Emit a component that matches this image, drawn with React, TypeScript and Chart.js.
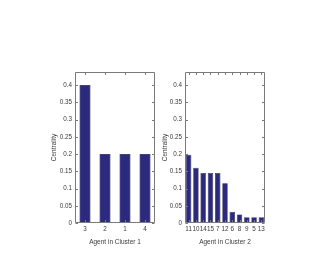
import React, { useEffect, useRef } from "react";
import { Chart, registerables } from "chart.js";

Chart.register(...registerables);

const leftCategories = ["3", "2", "1", "4"];
const leftValues = [0.4, 0.2, 0.2, 0.2];
const rightCategories = ["11", "10", "14", "15", "7", "12", "6", "8", "9", "5", "13"];
const rightValues = [0.198, 0.16, 0.145, 0.145, 0.145, 0.115, 0.032, 0.025, 0.017, 0.017, 0.017];
const yTickValues = [0, 0.05, 0.1, 0.15, 0.2, 0.25, 0.3, 0.35, 0.4];
const yMax = 0.438;

const W = 329;
const H = 269;
const BAR_FILL = "#2c2a7d";
const BAR_EDGE = "#15153a";
const TEXT = "#3a3a3a";
const FONT = "'Liberation Sans', Arial, sans-serif";

const boxPlugin = {
  id: "matlabBox",
  afterDraw(chart: any) {
    const { ctx, chartArea } = chart;
    const x = chart.scales.x;
    const y = chart.scales.y;
    const l = Math.round(chartArea.left) + 0.5;
    const r = Math.round(chartArea.right) - 0.5;
    const t = Math.round(chartArea.top) + 0.5;
    const b = Math.round(chartArea.bottom) - 0.5;
    ctx.save();
    ctx.strokeStyle = "#7a7a7a";
    ctx.lineWidth = 1;
    ctx.beginPath();
    ctx.rect(l, t, r - l, b - t);
    const tl = 2.5;
    yTickValues.forEach((v) => {
      const py = Math.round(y.getPixelForValue(v)) + 0.5;
      ctx.moveTo(l, py);
      ctx.lineTo(l + tl, py);
      ctx.moveTo(r, py);
      ctx.lineTo(r - tl, py);
    });
    const n = chart.data.labels.length;
    for (let i = 0; i < n; i++) {
      const px = Math.round(x.getPixelForValue(i)) + 0.5;
      ctx.moveTo(px, b);
      ctx.lineTo(px, b - tl);
      ctx.moveTo(px, t);
      ctx.lineTo(px, t + tl);
    }
    ctx.stroke();
    ctx.restore();
  },
};

function makeConfig(
  labels: string[],
  values: number[],
  xTitle: string,
  yAxisWidth: number,
  padRight: number,
  yTitleOffset: number,
  barPct: number
): any {
  return {
    type: "bar",
    data: {
      labels,
      datasets: [
        {
          data: values,
          backgroundColor: BAR_FILL,
          borderColor: BAR_EDGE,
          borderWidth: 0.6,
          barPercentage: barPct,
          categoryPercentage: 1,
        },
      ],
    },
    options: {
      responsive: false,
      animation: false,
      devicePixelRatio: 1,
      layout: { padding: { left: 0, right: padRight, top: 72, bottom: 0 } },
      plugins: { legend: { display: false }, tooltip: { enabled: false } },
      scales: {
        x: {
          type: "category",
          offset: true,
          grid: { display: false, drawTicks: false },
          border: { display: false },
          ticks: {
            color: TEXT,
            font: { family: FONT, size: 6.3 },
            padding: 2,
            maxRotation: 0,
            autoSkip: false,
          },
          title: {
            display: true,
            text: xTitle,
            color: TEXT,
            font: { family: FONT, size: 6.5, lineHeight: 1.2 },
            padding: { top: 0, bottom: 23 },
          },
          afterFit(scale: any) {
            scale.height = 46;
          },
        },
        y: {
          min: 0,
          max: yMax,
          grid: { display: false, drawTicks: false },
          border: { display: false },
          ticks: {
            color: TEXT,
            font: { family: FONT, size: 6.3 },
            padding: 3,
            callback: (v: any) => String(Number(Number(v).toFixed(2))),
          },
          afterBuildTicks(scale: any) {
            scale.ticks = yTickValues.map((v) => ({ value: v }));
          },
          title: {
            display: true,
            text: "Centrality",
            color: TEXT,
            font: { family: FONT, size: 6.5, lineHeight: 1.2 },
            padding: { top: yTitleOffset - 3.9, bottom: 0 },
          },
          afterFit(scale: any) {
            scale.width = yAxisWidth;
          },
        },
      },
    },
    plugins: [boxPlugin],
  };
}

export default function App() {
  const leftRef = useRef<HTMLCanvasElement>(null);
  const rightRef = useRef<HTMLCanvasElement>(null);

  useEffect(() => {
    const c1 = new Chart(
      leftRef.current as HTMLCanvasElement,
      makeConfig(leftCategories, leftValues, "Agent in Cluster 1", 75, W - 155, 54.5, 0.55)
    );
    const c2 = new Chart(
      rightRef.current as HTMLCanvasElement,
      makeConfig(rightCategories, rightValues, "Agent in Cluster 2", 185, W - 265, 165, 0.75)
    );
    return () => {
      c1.destroy();
      c2.destroy();
    };
  }, []);

  const canvasStyle: React.CSSProperties = {
    position: "absolute",
    left: 0,
    top: 0,
    width: W,
    height: H,
  };

  return (
    <div style={{ position: "absolute", left: 0, top: 0, width: W, height: H, background: "#fff" }}>
      <canvas ref={leftRef} width={W} height={H} style={canvasStyle} />
      <canvas ref={rightRef} width={W} height={H} style={canvasStyle} />
    </div>
  );
}
